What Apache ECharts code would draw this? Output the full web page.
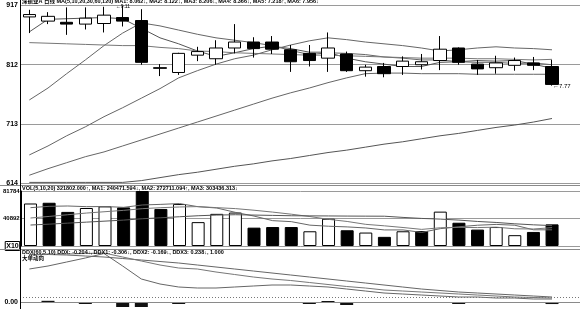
<!DOCTYPE html>
<html><head><meta charset="utf-8">
<script src="https://cdn.jsdelivr.net/npm/echarts@6/dist/echarts.min.js"></script>
<style>html,body{margin:0;padding:0;background:#fff;}#c{width:580px;height:309px;}</style>
</head><body><div id="c"></div>
<script>
// ---- data (prices x100) ----
const days = ['1','2','3','4','5','6','7','8','9','10','11','12','13','14','15','16','17','18','19','20','21','22','23','24','25','26','27','28','29'];
const openP  = [892,885,883,880,881,891,886,807,799,828,822,840,850,850,837,831,823,830,802,809,809,812,819,840,813,807,811,815,809];
const closeP = [896,893,880,890,895,885,816,806,831,834,840,850,839,838,817,819,840,802,808,797,818,817,838,816,805,815,819,811,779];
const lowP   = [865,880,862,871,866,876,812,793,795,818,812,831,824,830,800,809,800,800,792,791,795,804,803,812,795,797,802,803,777];
const highP  = [904,900,908,908,909,911,905,813,832,842,853,880,858,860,845,845,866,834,812,815,826,830,860,841,820,827,824,825,820];
const ma5   = [867,888,889,890,891,889,873,857,847,835,826,832,839,843,839,833,833,823,817,813,809,809,816,817,819,818,819,813,806];
const ma10  = [753,773,797,820,844,865,882,877,870,863,857,853,849,844,836,829,832,831,829,825,823,820,820,817,816,816,814,815,812];
const ma20  = [849,848,847,846,845,844,844,841,839,835,834,832,831,830,829,828,828,827,826,825,824,823,823,823,822,822,821,820,821];
const ma30  = [661,676,693,708,725,740,756,772,790,802,813,822,828,837,845,852,857,854,850,847,844,840,835,837,840,842,840,839,837];
const ma60  = [615,615,615,615,615,615,618,623,628,632,637,642,646,651,655,660,665,669,674,679,683,688,693,697,702,707,711,716,722];
const ma120 = [627,638,648,658,666,676,686,696,706,716,726,736,746,756,765,773,782,790,797,798,798,797,797,797,796,796,796,796,796];
const priceLabels = [614,713,812,917];
// volume (x10)
const vol   = [63200,64300,50700,56500,58900,57400,81784,55100,62400,35500,47800,49700,27300,28200,28200,21900,40500,23400,20000,13600,21900,22300,51100,34600,24400,28200,16100,20900,32180];
const vma5  = [57000,59000,59500,58500,58700,57500,61000,61900,63100,58400,56500,50000,44500,37700,36200,31000,29400,28400,26800,23900,23900,20200,25800,28600,30900,32100,30900,24100,24047];
const vma10 = [41600,44000,46500,49000,51000,53000,55500,57000,58000,58600,57000,55600,53200,50400,47300,43800,39600,36500,32200,30000,27500,24700,27100,27700,27400,28000,25600,25300,27271];
const vma20 = [31200,32500,34000,35500,37000,38500,40500,42000,43500,45000,46000,46500,46000,45500,45000,44800,44700,44500,44400,44300,42500,41000,40000,38500,36500,35000,33000,31500,30344];
const volLabels = [40892,81784];
// DDX panel
const ddx  = [0,0.12,-0.05,-0.2,0,-0.5,-0.5,-0.08,-0.2,-0.05,-0.05,-0.05,0,-0.05,0,-0.2,0.1,-0.3,-0.08,0,-0.08,-0.08,0,-0.2,-0.1,0,0,-0.08,-0.204];
const ddx1 = [4.75,4.75,4.7,4.6,4.5,4.35,4.2,4.05,3.9,3.7,3.5,3.3,3.1,2.9,2.7,2.5,2.3,2.1,1.9,1.7,1.5,1.3,1.15,1.0,0.9,0.8,0.7,0.6,0.5];
const ddx2 = [3.3,3.6,4.0,4.4,4.85,3.6,2.3,1.8,1.5,1.4,1.4,1.5,1.6,1.7,1.7,1.6,1.5,1.3,1.1,0.9,0.8,0.7,0.6,0.5,0.5,0.4,0.4,0.3,0.3];
const ddx3 = [4.7,4.75,4.8,4.85,4.9,4.5,4.1,3.7,3.4,3.3,3.0,2.75,2.5,2.3,2.15,1.95,1.75,1.55,1.4,1.2,1.1,1.0,0.9,0.8,0.7,0.6,0.5,0.45,0.4];
const ddxRef = 0.5;

const mainTitle = '深振业A 日线 MA(5,10,20,30,60,120) MA1: 8.062↓, MA2: 8.122↓, MA3: 8.206↓, MA4: 8.366↓, MA5: 7.218↑, MA6: 7.956↓';
const volTitle = 'VOL(5,10,20) 321802.000↑, MA1: 240471.594↓, MA2: 272711.094↑, MA3: 303436.313↓';
const ddxTitle = 'DDX(60,5,10) DDX: -0.204↓, DDX1: -0.306↓, DDX2: -0.169↓, DDX3: 0.238↓, 1.000';
const ddxSub = '大单动向';

// ---- build ----
const cats = days.concat(['']);
const candles = days.map((d,i)=>[openP[i],closeP[i],lowP[i],highP[i]]);
let hiIdx = 0, loIdx = 0;
highP.forEach((v,i)=>{ if (v > highP[hiIdx]) hiIdx = i; });
lowP.forEach((v,i)=>{ if (v < lowP[loIdx]) loIdx = i; });

const FONT = "'Liberation Sans','Noto Sans CJK SC',sans-serif";
const lineColor = '#6e6e6e';
const grids = [
  {left:20, top:2, width:566, height:181},
  {left:20, top:191, width:566, height:55},
  {left:20, top:250, width:566, height:59}
];
const xAxes = grids.map((g,i)=>({type:'category', gridIndex:i, data:cats, boundaryGap:true, show:false}));
const labelBase = {color:'#000', fontSize:7, fontWeight:'bold', fontFamily:FONT, margin:2};

function mkLine(data, xi, color){
  return {type:'line', xAxisIndex:xi, yAxisIndex:xi, data:data, symbol:'none', silent:true,
    lineStyle:{width:1, color:color||lineColor}, z:3};
}

const chart = echarts.init(document.getElementById('c'), null, {renderer:'canvas'});
chart.setOption({
  animation:false,
  backgroundColor:'#fff',
  grid: grids,
  xAxis: xAxes,
  yAxis: [
    {type:'value', gridIndex:0, min:614, max:917, interval:99,
     axisLine:{show:true, lineStyle:{color:'#000'}}, axisTick:{show:false},
     splitLine:{show:true, showMaxLine:false, lineStyle:{color:'#9a9a9a', width:1}},
     axisLabel:Object.assign({}, labelBase, {
       formatter: v => priceLabels.indexOf(v) < 0 ? '' : (v === priceLabels[priceLabels.length-1] ? '{t|'+v+'}' : String(v)),
       rich:{t:{padding:[6,0,0,0], fontSize:7, fontWeight:'bold', fontFamily:FONT, color:'#000'}}
     })},
    {type:'value', gridIndex:1, min:0, max:volLabels[1], interval:volLabels[0],
     axisLine:{show:true, lineStyle:{color:'#000'}}, axisTick:{show:false},
     splitLine:{show:true, lineStyle:{color:'#9a9a9a', width:1}},
     axisLabel:Object.assign({}, labelBase, {
       fontSize:6, margin:1.5,
       formatter: v => v === 0 ? '{x|X10}' : String(v),
       rich:{x:{borderColor:'#000', borderWidth:1, padding:[1,1,1,1], fontSize:7, fontWeight:'bold', fontFamily:FONT, color:'#000'}}
     })},
    {type:'value', gridIndex:2, min:-0.7, max:5.2,
     axisLine:{show:true, lineStyle:{color:'#000'}}, axisTick:{show:false},
     splitLine:{show:false},
     axisLabel:Object.assign({}, labelBase, {customValues:[0], formatter: v => v.toFixed(2)})}
  ],
  series: [
    {type:'candlestick', xAxisIndex:0, yAxisIndex:0, data:candles, barWidth:13, z:5,
     itemStyle:{color:'#fff', color0:'#000', borderColor:'#000', borderColor0:'#000', borderWidth:1},
     markPoint:{symbol:'circle', symbolSize:0, silent:true, z:20,
       data:[
         {coord:[hiIdx, highP[hiIdx]], label:{show:true, position:'right', distance:0, offset:[-7,1], formatter:'←'+(highP[hiIdx]/100).toFixed(2), fontSize:5, color:'#000', fontFamily:FONT}},
         {coord:[loIdx, lowP[loIdx]], label:{show:true, position:'right', distance:1, offset:[0,1], formatter:'←'+(lowP[loIdx]/100).toFixed(2), fontSize:6, color:'#000', fontFamily:FONT}}
       ]}},
    mkLine(ma5,0,'#555'), mkLine(ma10,0,'#666'), mkLine(ma20,0,'#777'),
    mkLine(ma30,0,'#666'), mkLine(ma60,0,'#555'), mkLine(ma120,0,'#666'),
    {type:'bar', xAxisIndex:1, yAxisIndex:1, barWidth:13, z:2,
     data: vol.map((v,i)=>{
       const up = i === 0 ? true : closeP[i] > closeP[i-1];
       return {value:v, itemStyle: up ? {color:'#fff', borderColor:'#000', borderWidth:1} : {color:'#000', borderColor:'#000', borderWidth:1}};
     })},
    mkLine(vma5,1,'#666'), mkLine(vma10,1,'#777'), mkLine(vma20,1,'#555'),
    {type:'bar', xAxisIndex:2, yAxisIndex:2, barWidth:13, data:ddx, itemStyle:{color:'#111'}, z:2,
     markLine:{silent:true, symbol:'none', label:{show:false},
       data:[{yAxis:0, lineStyle:{color:'#8a8a8a', width:1, type:'solid'}},
             {yAxis:ddxRef, lineStyle:{color:'#777', width:1, type:[1,2]}}]}},
    mkLine(ddx1,2,'#666'), mkLine(ddx2,2,'#666'), mkLine(ddx3,2,'#777')
  ],
  graphic: [
    {type:'line', z:50, shape:{x1:0, y1:185.5, x2:580, y2:185.5}, style:{stroke:'#8a8a8a', lineWidth:1}},
    {type:'line', z:50, shape:{x1:0, y1:249.5, x2:580, y2:249.5}, style:{stroke:'#8a8a8a', lineWidth:1}},
    {type:'line', z:50, shape:{x1:20.5, y1:0, x2:20.5, y2:309}, style:{stroke:'#000', lineWidth:1}},
    {type:'text', z:100, left:22, top:-1, style:{text:mainTitle, font:'bold 5.5px '+FONT, fill:'#000'}},
    {type:'text', z:100, left:22, top:186, style:{text:volTitle, font:'bold 5.5px '+FONT, fill:'#000'}},
    {type:'text', z:100, left:22, top:250, style:{text:ddxTitle, font:'bold 5.5px '+FONT, fill:'#000'}},
    {type:'text', z:100, left:22, top:255.5, style:{text:ddxSub, font:'bold 5.5px '+FONT, fill:'#000'}}
  ]
});
</script>
</body></html>
